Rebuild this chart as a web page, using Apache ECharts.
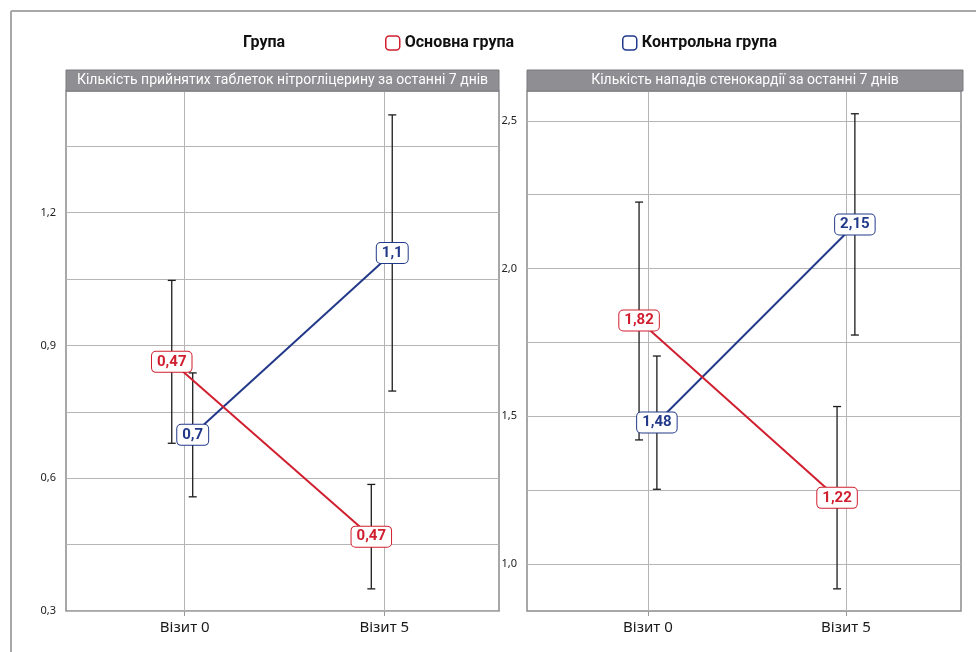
<!DOCTYPE html>
<html><head><meta charset="utf-8">
<script src="https://cdn.jsdelivr.net/npm/echarts@6/dist/echarts.min.js"></script>
<style>html,body{margin:0;padding:0;background:#fff}#c{width:976px;height:652px}</style>
</head><body><div id="c"></div>
<script>
// ---------- data ----------
const categories = ['Візит 0', 'Візит 5'];
const panelTitles = ['Кількість прийнятих таблеток нітрогліцерину за останні 7 днів', 'Кількість нападів стенокардії за останні 7 днів'];
const legendTitle = 'Група';
const seriesNames = ['Основна група', 'Контрольна група'];

// panel 1: nitroglycerin tablets
const p1MainMean = [0.863, 0.468];
const p1MainLow = [0.679, 0.350];
const p1MainHigh = [1.047, 0.586];
const p1MainLabels = ['0,47', '0,47'];
const p1CtrlMean = [0.698, 1.109];
const p1CtrlLow = [0.558, 0.797];
const p1CtrlHigh = [0.838, 1.421];
const p1CtrlLabels = ['0,7', '1,1'];

// panel 2: angina attacks
const p2MainMean = [1.824, 1.224];
const p2MainLow = [1.420, 0.916];
const p2MainHigh = [2.225, 1.533];
const p2MainLabels = ['1,82', '1,22'];
const p2CtrlMean = [1.479, 2.149];
const p2CtrlLow = [1.253, 1.775];
const p2CtrlHigh = [1.704, 2.524];
const p2CtrlLabels = ['1,48', '2,15'];

// axis ticks
const p1YLabels = [0.3, 0.6, 0.9, 1.2];
const p1YGrid = [0.3, 0.45, 0.6, 0.75, 0.9, 1.05, 1.2, 1.35];
const p2YLabels = [1.0, 1.5, 2.0, 2.5];
const p2YGrid = [1.0, 1.25, 1.5, 1.75, 2.0, 2.25, 2.5];
const xTicks = [0, 1];

// ---------- styles ----------
const RED = '#d01f2f';
const BLUE = '#22398a';
const FONT = 'Roboto';
const AXFONT = '"Noto Sans"';
const offsets = [{main: -0.065, ctrl: 0.04}, {main: -0.045, ctrl: 0.045}];

const chart = echarts.init(document.getElementById('c'), null, {renderer: 'canvas'});

function fmt(v) { return (Math.round(v * 10) / 10).toFixed(1).replace('.', ','); }

function errRender(params, api) {
  const x = api.value(0), lo = api.value(1), hi = api.value(2);
  const a = api.coord([x, lo]), b = api.coord([x, hi]);
  const w = 4;
  const style = {stroke: '#1c1c1c', lineWidth: 1.3};
  return {type: 'group', children: [
    {type: 'line', shape: {x1: a[0], y1: a[1], x2: b[0], y2: b[1]}, style},
    {type: 'line', shape: {x1: a[0] - w, y1: a[1], x2: a[0] + w, y2: a[1]}, style},
    {type: 'line', shape: {x1: b[0] - w, y1: b[1], x2: b[0] + w, y2: b[1]}, style}
  ]};
}

function errSeries(idx, off, low, high) {
  return {
    type: 'custom', xAxisIndex: idx, yAxisIndex: idx, z: 2, silent: true,
    renderItem: errRender, encode: {x: 0, y: [1, 2]},
    data: low.map((l, i) => [i + off, l, high[i]])
  };
}

function lineSeries(idx, name, color, off, mean, labels, z) {
  return {
    type: 'line', name, xAxisIndex: idx, yAxisIndex: idx, z,
    data: mean.map((m, i) => [i + off, m]),
    lineStyle: {color, width: 2},
    itemStyle: {color, opacity: 0},
    symbol: 'circle', symbolSize: 1, showSymbol: true,
    label: {
      show: true, position: 'inside', formatter: p => labels[p.dataIndex],
      color, fontFamily: FONT, fontWeight: 'bold', fontSize: 15,
      backgroundColor: '#fff', borderColor: color, borderWidth: 1,
      borderRadius: 4, padding: [3, 5, 2, 5], opacity: 1
    },
    emphasis: {disabled: true},
    animation: false
  };
}

function xAxis(idx, min, max) {
  return {
    type: 'value', gridIndex: idx, min, max,
    axisLine: {show: false},
    axisTick: {show: true, length: 5, lineStyle: {color: '#999'}, customValues: xTicks},
    axisLabel: {customValues: xTicks, formatter: v => categories[Math.round(v)], color: '#1a1a1a',
      fontFamily: AXFONT, fontSize: 15, margin: 9},
    splitLine: {show: true, lineStyle: {color: '#b5b5b5', width: 1}}
  };
}

function yAxis(idx, min, max, grid, labels) {
  return {
    type: 'value', gridIndex: idx, min, max,
    axisLine: {show: false},
    axisTick: {show: false, customValues: grid},
    axisLabel: {customValues: labels, formatter: fmt, color: '#222', fontFamily: AXFONT, fontSize: 11, margin: 10},
    splitLine: {show: true, lineStyle: {color: '#b5b5b5', width: 1}}
  };
}

const headers = [
  {x: 66, w: 433},
  {x: 527, w: 436}
];

const graphics = [
  {type: 'line', shape: {x1: 11, y1: 11, x2: 976, y2: 11}, style: {stroke: '#a8a8a8', lineWidth: 2}},
  {type: 'line', shape: {x1: 11, y1: 11, x2: 11, y2: 652}, style: {stroke: '#a8a8a8', lineWidth: 2}},
  {type: 'text', left: 243, top: 35, style: {text: legendTitle, font: 'bold 16px Roboto', fill: '#111'}}
];
headers.forEach((h, i) => {
  graphics.push({type: 'rect', shape: {x: h.x, y: 70, width: h.w, height: 21},
    style: {fill: '#8e8e93', stroke: '#7a7a7e', lineWidth: 1}, z: 10});
  graphics.push({type: 'text', x: h.x + h.w / 2, y: 80.5, z: 11,
    style: {text: panelTitles[i], font: '14px Roboto', fill: '#fff', align: 'center', verticalAlign: 'middle'}});
});

const legendCommon = {
  top: 35, padding: 0, itemWidth: 14, itemHeight: 14, itemGap: 10, icon: 'roundRect',
  textStyle: {fontFamily: FONT, fontWeight: 'bold', fontSize: 16, color: '#111'},
  selectedMode: false
};

function legendItem(name, color) {
  return {name, icon: 'roundRect',
    itemStyle: {color: '#fff', borderColor: color, borderWidth: 1.5, opacity: 1},
    lineStyle: {width: 0, opacity: 0}};
}

chart.setOption({
  animation: false,
  grid: [
    {left: 66, top: 91, width: 433, height: 520, show: true, borderColor: '#8a8a8a', borderWidth: 1.5, backgroundColor: 'transparent'},
    {left: 527, top: 91, width: 434, height: 520, show: true, borderColor: '#8a8a8a', borderWidth: 1.5, backgroundColor: 'transparent'}
  ],
  legend: [
    Object.assign({}, legendCommon, {left: 385, data: [legendItem(seriesNames[0], RED)]}),
    Object.assign({}, legendCommon, {left: 622, data: [legendItem(seriesNames[1], BLUE)]})
  ],
  xAxis: [xAxis(0, -0.595, 1.575), xAxis(1, -0.611, 1.581)],
  yAxis: [yAxis(0, 0.3, 1.475, p1YGrid, p1YLabels), yAxis(1, 0.841, 2.601, p2YGrid, p2YLabels)],
  graphic: graphics,
  series: [
    errSeries(0, offsets[0].main, p1MainLow, p1MainHigh),
    errSeries(0, offsets[0].ctrl, p1CtrlLow, p1CtrlHigh),
    errSeries(1, offsets[1].main, p2MainLow, p2MainHigh),
    errSeries(1, offsets[1].ctrl, p2CtrlLow, p2CtrlHigh),
    lineSeries(0, seriesNames[1], BLUE, offsets[0].ctrl, p1CtrlMean, p1CtrlLabels, 3),
    lineSeries(0, seriesNames[0], RED, offsets[0].main, p1MainMean, p1MainLabels, 4),
    lineSeries(1, seriesNames[1], BLUE, offsets[1].ctrl, p2CtrlMean, p2CtrlLabels, 3),
    lineSeries(1, seriesNames[0], RED, offsets[1].main, p2MainMean, p2MainLabels, 4)
  ]
});
</script>
</body></html>
